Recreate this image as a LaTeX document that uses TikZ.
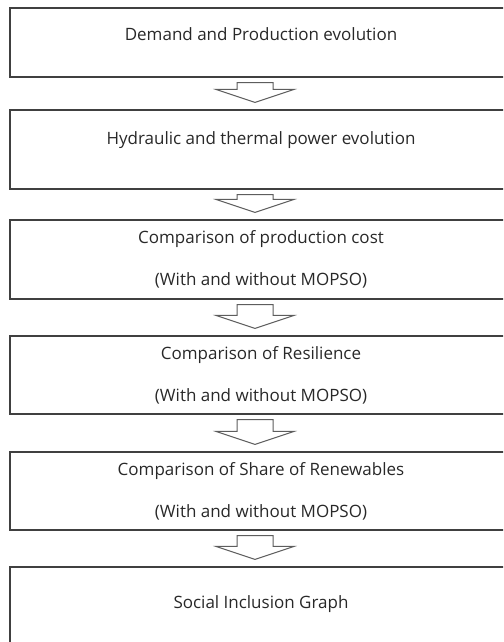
\documentclass[tikz,border=0pt]{standalone}
\usepackage{fontspec}
\setmainfont{Open Sans}
\usepackage{xcolor}
\usetikzlibrary{calc}
\definecolor{Edge}{RGB}{64, 64, 64}
\definecolor{Ink}{RGB}{40, 40, 40}
\newcommand{\flowstep}[2]{%
  \draw[arr] ($(#1.south)+(-24,5)$) -- ($(#1.south)+(12,5)$)
    -- ($(#2.north)+(12,-20)$) -- ($(#2.north)+(33,-20)$)
    -- ($(#2.north)+(-6,-7)$) -- ($(#2.north)+(-45,-20)$)
    -- ($(#2.north)+(-24,-20)$) -- cycle;}

\begin{document}
\begin{tikzpicture}[x=1pt, y=-1pt,
    box/.style={rectangle, draw=Edge, line width=1.2pt, minimum width=502pt, inner sep=0pt,
                align=center, text=Ink, font=\fontsize{17}{42}\selectfont},
    lifted/.style={text height=12pt, text depth=#1},
    arr/.style={draw=Edge!85, line width=1pt, fill=white, line join=miter},
]
\useasboundingbox (0,0) rectangle (503,642);
\clip (0,0) rectangle (503,642);

\node[box, lifted=15pt, minimum height=69pt]
      (demand) at (261,42.5) {Demand and Production evolution};
\node[box, lifted=23pt, minimum height=79pt]
      (hydro) at (261,149.5) {Hydraulic and thermal power evolution};
\node[box, minimum height=79pt]
      (cost) at (261,259.5) {Comparison of production cost\\(With and without MOPSO)};
\node[box, minimum height=78pt]
      (resil) at (261,375) {Comparison of Resilience\\(With and without MOPSO)};
\node[box, minimum height=78pt]
      (renew) at (261,491) {Comparison of Share of Renewables\\(With and without MOPSO)};
\node[box, lifted=30pt, minimum height=100pt]
      (social) at (261,617) {Social Inclusion Graph};

\flowstep{demand}{hydro}
\flowstep{hydro}{cost}
\flowstep{cost}{resil}
\flowstep{resil}{renew}
\flowstep{renew}{social}
\end{tikzpicture}
\end{document}
